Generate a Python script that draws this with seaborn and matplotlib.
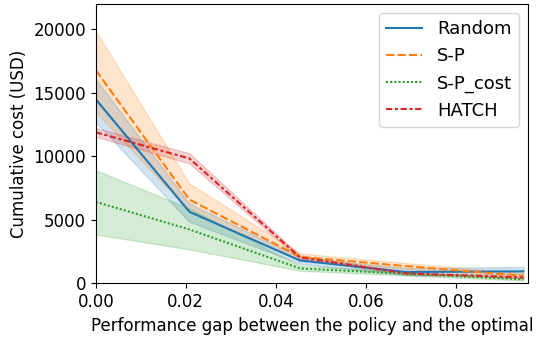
import numpy as np
import pandas as pd
import matplotlib
matplotlib.use("Agg")
import matplotlib.pyplot as plt
import seaborn as sns

# performance gap (x) shared by all policies
GAP = [0.0, 0.0208, 0.0454, 0.0690, 0.0950]

METHODS = ["Random", "S-P", "S-P_cost", "HATCH"]

# cumulative cost: mean and band (low / high)
RANDOM_MID = [14500, 5640, 1800, 900, 950]
RANDOM_LO = [12700, 4850, 1550, 650, 730]
RANDOM_HI = [16100, 6300, 2050, 1200, 1300]

SP_MID = [16800, 6600, 2090, 1360, 600]
SP_LO = [13500, 5700, 1850, 1150, 450]
SP_HI = [19900, 7870, 2360, 1600, 800]

SPC_MID = [6420, 4250, 1180, 760, 320]
SPC_LO = [3860, 2680, 1000, 620, 230]
SPC_HI = [8920, 5900, 1400, 900, 420]

HATCH_MID = [11900, 9840, 2050, 790, 470]
HATCH_LO = [11550, 9450, 1900, 700, 400]
HATCH_HI = [12250, 10250, 2200, 880, 540]

SERIES = {
    "Random": (RANDOM_LO, RANDOM_MID, RANDOM_HI),
    "S-P": (SP_LO, SP_MID, SP_HI),
    "S-P_cost": (SPC_LO, SPC_MID, SPC_HI),
    "HATCH": (HATCH_LO, HATCH_MID, HATCH_HI),
}

rows = []
for name, bands in SERIES.items():
    for vals in bands:
        for x, y in zip(GAP, vals):
            rows.append({"gap": x, "cost": y, "method": name})
df = pd.DataFrame(rows)

fig = plt.figure(figsize=(5.38, 3.37), dpi=100)
ax = fig.add_axes([0.178, 0.159, 0.804, 0.829])

# median of (lo, mid, hi) = mid, full interval = band
sns.lineplot(
    data=df, x="gap", y="cost",
    hue="method", style="method",
    hue_order=METHODS, style_order=METHODS,
    palette=sns.color_palette("tab10", 4),
    estimator=np.median, errorbar=("pi", 100),
    linewidth=1.5, ax=ax,
)

ax.set_xlim(0, 0.0961)
ax.set_ylim(0, 22000)
ax.set_xticks([0.0, 0.02, 0.04, 0.06, 0.08])
ax.set_yticks([0, 5000, 10000, 15000, 20000])
ax.tick_params(labelsize=12)
ax.set_xlabel("Performance gap between the policy and the optimal", fontsize=12)
ax.set_ylabel("Cumulative cost (USD)", fontsize=12)
ax.legend(loc="upper right", fontsize=13)

fig.savefig("out.png", dpi=100)
